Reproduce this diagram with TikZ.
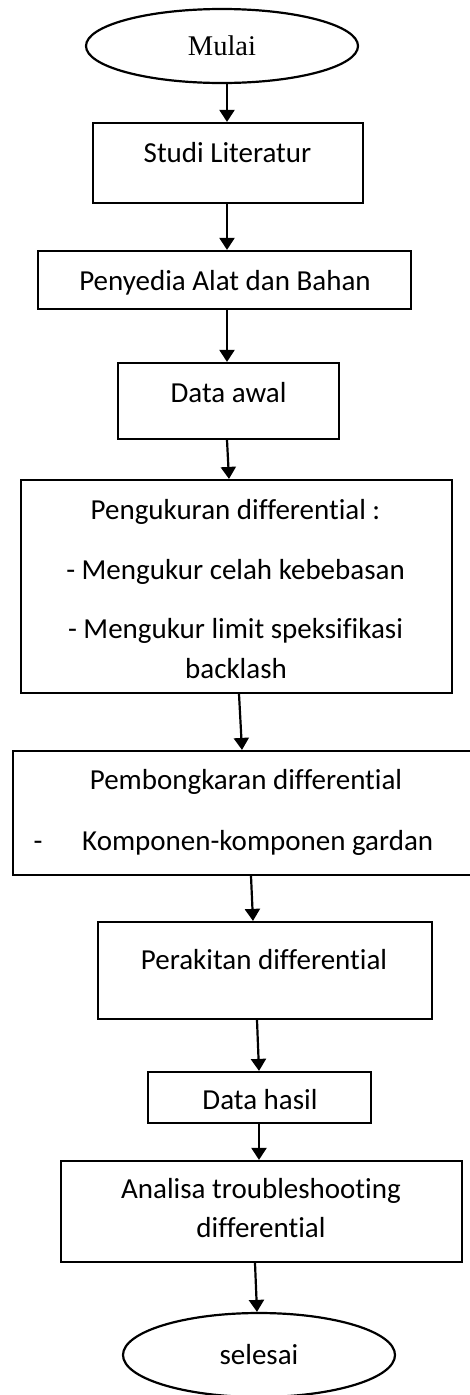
\documentclass[tikz,border=0pt]{standalone}
\usepackage{fontspec}
\setmainfont[Ligatures={NoCommon}]{Carlito}
\newfontfamily\timesf{Liberation Serif}
\usetikzlibrary{shapes.geometric,arrows.meta}
\begin{document}
\begin{tikzpicture}[x=1pt,y=-1pt,
  box/.style={draw,line width=2.2pt,inner sep=0pt,minimum width=#1},
  oval/.style={draw,ellipse,line width=2.2pt,inner sep=0pt,minimum width=272pt},
  txt/.style={anchor=base,inner sep=0pt,font=\fontsize{29}{35}\selectfont},
  arr/.style={line width=2.2pt,-{Triangle[length=12pt,width=15pt]}}]
\useasboundingbox (0,0) rectangle (469,1395);
\fill[white] (0,0) rectangle (469,1395);
% shapes
\node[oval,minimum height=74pt,font=\timesf\fontsize{28.5}{34}\selectfont] (start) at (222,46) {Mulai};
\node[box=270pt,minimum height=80pt] (b1) at (228,163) {};
\node[box=373pt,minimum height=58pt] (b2) at (224.5,280) {};
\node[box=221pt,minimum height=76pt] (b3) at (228.5,401) {};
\node[box=431pt,minimum height=213pt] (b4) at (236.5,586.5) {};
\node[box=462pt,minimum height=124pt] (b5) at (244,813) {};
\node[box=334pt,minimum height=97pt] (b6) at (265,970.5) {};
\node[box=223pt,minimum height=51pt] (b7) at (259.5,1097.5) {};
\node[box=401pt,minimum height=101pt] (b8) at (261.5,1211.5) {};
\node[oval,minimum height=84pt,font=\fontsize{29}{35}\selectfont] (end) at (259,1355) {selesai};
% texts
\node[txt] (t1) at (227.5,162) {Studi Literatur};
\node[txt] (t2) at (225,290) {Penyedia Alat dan Bahan};
\node[txt] (t3) at (228.5,402) {Data awal};
\node[txt] (t4a) at (235.5,519) {Pengukuran differential :};
\node[txt] (t4b) at (235.5,579) {- Mengukur celah kebebasan};
\node[txt] (t4c) at (235.5,638) {- Mengukur limit speksifikasi};
\node[txt] (t4d) at (236,678) {backlash};
\node[txt] (t5a) at (246,789) {Pembongkaran differential};
\node[txt] (t5b) at (38,850) {-};
\node[txt,anchor=base west] (t5c) at (82,850) {Komponen-komponen gardan};
\node[txt] (t6) at (264,969) {Perakitan differential};
\node[txt] (t7) at (260,1109) {Data hasil};
\node[txt] (t8a) at (261,1198) {Analisa troubleshooting};
\node[txt] (t8b) at (261,1237) {differential};
% arrows
\draw[arr] ([xshift=5pt]start.south) -- ([xshift=-1pt]b1.north);
\draw[arr] ([xshift=-1pt]b1.south) -- ([xshift=2.5pt]b2.north);
\draw[arr] ([xshift=2.5pt]b2.south) -- ([xshift=-1.5pt]b3.north);
\draw[arr] ([xshift=-1.5pt]b3.south) -- ([xshift=-7.5pt]b4.north);
\draw[arr] ([xshift=2.5pt]b4.south) -- ([xshift=-2pt]b5.north);
\draw[arr] ([xshift=7pt]b5.south) -- ([xshift=-12pt]b6.north);
\draw[arr] ([xshift=-8pt]b6.south) -- ([xshift=-0.5pt]b7.north);
\draw[arr] ([xshift=-0.5pt]b7.south) -- ([xshift=-2.5pt]b8.north);
\draw[arr] ([xshift=-6.5pt]b8.south) -- ([xshift=-2pt]end.north);
\end{tikzpicture}
\end{document}
